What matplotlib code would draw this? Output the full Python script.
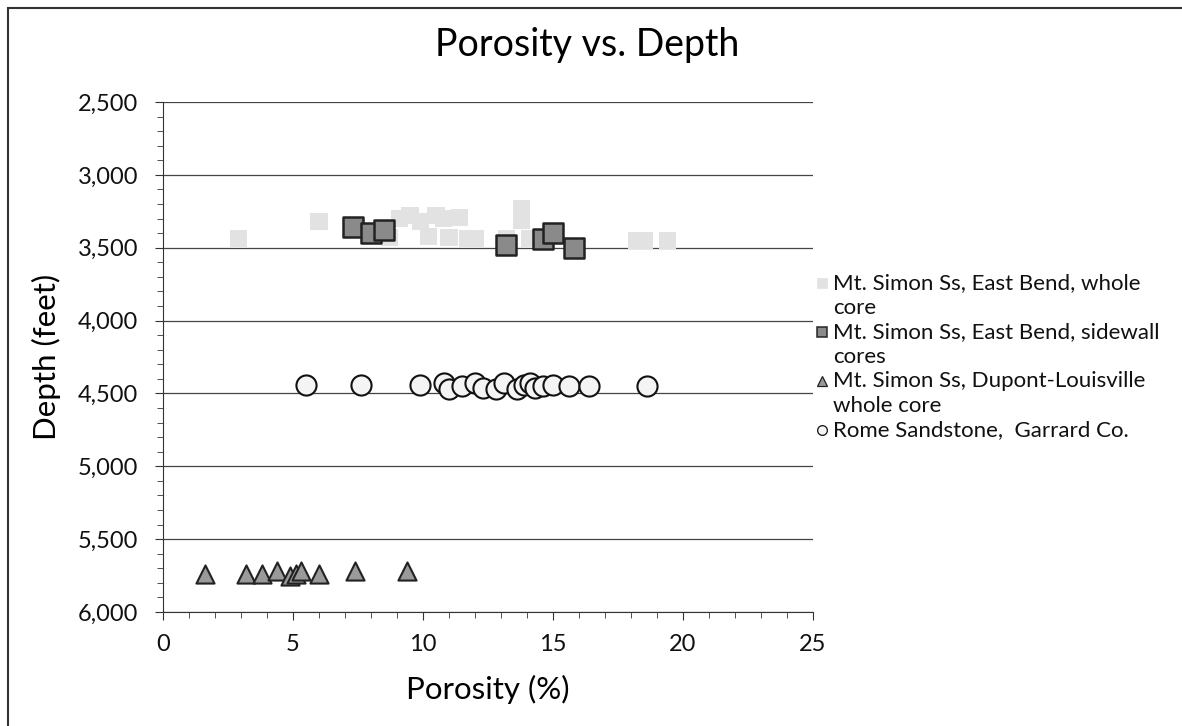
import matplotlib
matplotlib.use('Agg')
import matplotlib.pyplot as plt
from matplotlib.ticker import MultipleLocator, FuncFormatter
from matplotlib.patches import Rectangle
from matplotlib.lines import Line2D

plt.rcParams['font.family'] = ['Lato', 'DejaVu Sans']

# Mt. Simon Ss, East Bend, whole core
whole_poro = [2.9, 6.0, 8.7, 9.1, 9.5, 9.9, 10.2, 10.5, 10.8, 11.0, 11.4, 11.7, 12.0,
              13.2, 13.8, 13.8, 14.1, 18.2, 18.5, 19.4]
whole_depth = [3440, 3320, 3430, 3300, 3280, 3320, 3420, 3280, 3300, 3430, 3290, 3440, 3440,
               3440, 3310, 3230, 3440, 3450, 3450, 3450]

# Mt. Simon Ss, East Bend, sidewall cores
side_poro = [7.3, 8.0, 8.5, 13.2, 14.6, 15.0, 15.8]
side_depth = [3360, 3400, 3380, 3480, 3440, 3400, 3500]

# Mt. Simon Ss, Dupont-Louisville whole core
dupont_poro = [1.6, 3.2, 3.8, 4.4, 4.9, 5.1, 5.3, 6.0, 7.4, 9.4]
dupont_depth = [5740, 5740, 5740, 5720, 5750, 5740, 5720, 5740, 5720, 5720]

# Rome Sandstone, Garrard Co.
rome_poro = [5.5, 7.6, 9.9, 10.8, 11.0, 11.5, 12.0, 12.3, 12.8, 13.1, 13.6, 13.9,
             14.1, 14.3, 14.6, 15.0, 15.6, 16.4, 18.6]
rome_depth = [4440, 4440, 4440, 4430, 4470, 4450, 4430, 4460, 4470, 4430, 4470, 4440,
              4430, 4460, 4450, 4440, 4450, 4450, 4450]

labels = ['Mt. Simon Ss, East Bend, whole\ncore',
          'Mt. Simon Ss, East Bend, sidewall\ncores',
          'Mt. Simon Ss, Dupont-Louisville\nwhole core',
          'Rome Sandstone,  Garrard Co.']

# marker styles per series (marker, size, face, edge, edge width)
styles = [('s', 150, '#e2e2e2', 'none', 0),
          ('s', 190, '#8a8a8a', '#222222', 1.8),
          ('^', 170, '#9a9a9a', '#222222', 1.5),
          ('o', 210, '#f4f4f4', '#111111', 1.5)]

fig = plt.figure(figsize=(11.82, 7.26), dpi=100)
ax = fig.add_axes([163/1182, 1-612/726, 650/1182, 510/726])

series = [(whole_poro, whole_depth), (side_poro, side_depth),
          (dupont_poro, dupont_depth), (rome_poro, rome_depth)]
for i, (xs, ys) in enumerate(series):
    m, s, fc, ec, lw = styles[i]
    ax.scatter(xs, ys, marker=m, s=s, c=fc, edgecolors=ec, linewidths=lw,
               zorder=3 if i == 0 else 4)

ax.set_xlim(0, 25)
ax.set_ylim(6000, 2500)
ax.xaxis.set_major_locator(MultipleLocator(5))
ax.xaxis.set_minor_locator(MultipleLocator(1))
ax.yaxis.set_major_locator(MultipleLocator(500))
ax.yaxis.set_minor_locator(MultipleLocator(100))
ax.yaxis.set_major_formatter(FuncFormatter(lambda v, p: '{:,.0f}'.format(v)))

ax.grid(True, axis='y', which='major', color='#444444', linewidth=0.9)
ax.set_axisbelow(True)
for s in ['top', 'right']:
    ax.spines[s].set_visible(False)
ax.spines['left'].set_color('#333333')
ax.spines['bottom'].set_color('#333333')
ax.tick_params(which='both', direction='out', colors='#333333', labelcolor='#111111',
               labelsize=17)
ax.tick_params(which='major', length=6)
ax.tick_params(which='minor', length=4)
ax.tick_params(axis='x', pad=10)
ax.tick_params(axis='y', pad=12)

ax.set_xlabel('Porosity (%)', fontsize=22.5, labelpad=14)
ax.set_ylabel('Depth (feet)', fontsize=22.5, labelpad=12)
fig.text(0.497, 1-45/726, 'Porosity vs. Depth', fontsize=27, ha='center', va='center')

# legend drawn by hand: marker next to the first line of each entry
line_px = 24.5
row = 0
for i, lab in enumerate(labels):
    m, s, fc, ec, lw = styles[i]
    y0 = 283 + line_px * row
    fig.add_artist(Line2D([822/1182], [1-y0/726], transform=fig.transFigure, marker=m,
                          markersize=7 if m != '^' else 7.5, markerfacecolor=fc,
                          markeredgecolor=ec if ec != 'none' else fc,
                          markeredgewidth=max(lw * 0.6, 0.5), linestyle='none'))
    for part in lab.split('\n'):
        fig.text(833/1182, 1-(283 + line_px * row)/726, part, fontsize=16,
                 va='center', ha='left', color='#111111')
        row += 1

# border of the chart
fig.patches.append(Rectangle((8/1182, -0.01), 1.02, 1-8/726+0.01, transform=fig.transFigure,
                             fill=False, edgecolor='#333333', linewidth=1.5))

fig.savefig('out.png', dpi=100)
